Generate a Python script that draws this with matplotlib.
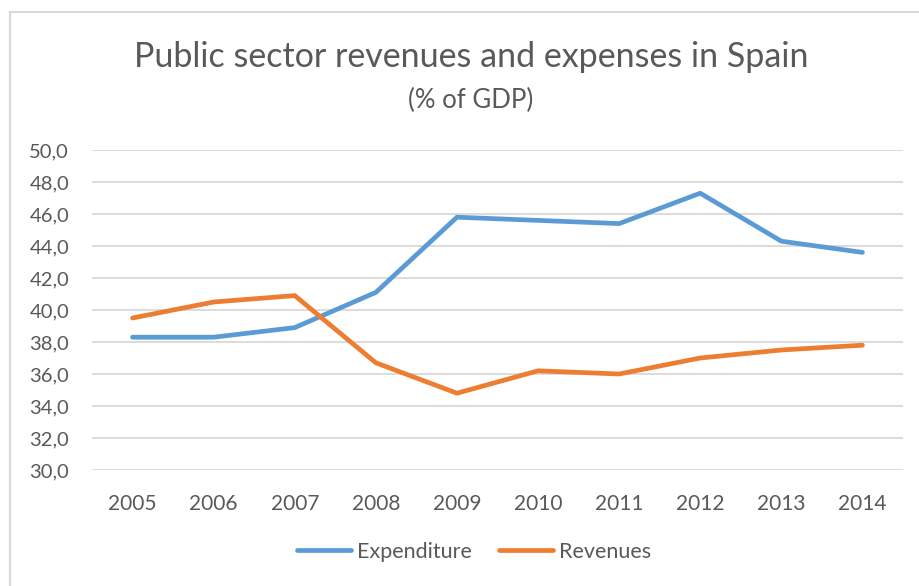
import matplotlib
matplotlib.use("Agg")
import matplotlib.pyplot as plt
from matplotlib.patches import Rectangle
from matplotlib.ticker import FuncFormatter

years = ["2005", "2006", "2007", "2008", "2009", "2010", "2011", "2012", "2013", "2014"]
expenditure = [38.3, 38.3, 38.9, 41.1, 45.8, 45.6, 45.4, 47.3, 44.3, 43.6]
revenues = [39.5, 40.5, 40.9, 36.7, 34.8, 36.2, 36.0, 37.0, 37.5, 37.8]
y_ticks = [30, 32, 34, 36, 38, 40, 42, 44, 46, 48, 50]

TEXT = "#595959"
GRID = "#D9D9D9"
BLUE = "#5B9BD5"
ORANGE = "#ED7D31"

plt.rcParams["font.family"] = ["Lato", "DejaVu Sans"]

W, H = 920, 586
fig = plt.figure(figsize=(W / 100, H / 100), dpi=100)
fig.patch.set_facecolor("white")

# chart frame (left and top edges visible)
fig.patches.append(Rectangle((10 / W, -0.05), 1.2, (H - 12) / H + 0.05,
                             transform=fig.transFigure, fill=False,
                             edgecolor=GRID, linewidth=1.5))

ax = fig.add_axes([92 / W, 1 - 470 / H, (903 - 92) / W, (470 - 150) / H])
x = list(range(len(years)))
ax.plot(x, expenditure, color=BLUE, lw=3.4, solid_capstyle="round",
        solid_joinstyle="round", label="Expenditure", zorder=3)
ax.plot(x, revenues, color=ORANGE, lw=3.4, solid_capstyle="round",
        solid_joinstyle="round", label="Revenues", zorder=3)

ax.set_xlim(-0.5, len(years) - 0.5)
ax.set_ylim(30, 50)
ax.set_yticks(y_ticks)
ax.yaxis.set_major_formatter(FuncFormatter(lambda v, p: f"{v:.1f}".replace(".", ",")))
ax.set_xticks(x)
ax.set_xticklabels(years)
ax.grid(axis="y", color=GRID, lw=1.3)
ax.set_axisbelow(True)
for s in ax.spines.values():
    s.set_visible(False)
ax.tick_params(axis="both", length=0, colors=TEXT)
ax.tick_params(axis="x", pad=17, labelsize=15)
ax.tick_params(axis="y", pad=16.5, labelsize=14.5)

fig.text(471 / W, 1 - 57 / H, "Public sector revenues and expenses in Spain",
         ha="center", va="center", fontsize=24.5, color=TEXT)
fig.text(471 / W, 1 - 100 / H, "(% of GDP)", ha="center", va="center",
         fontsize=18.5, color=TEXT)

leg = ax.legend(loc="center", bbox_to_anchor=(474 / W, 1 - 552 / H),
                bbox_transform=fig.transFigure, ncol=2, frameon=False,
                fontsize=15.5, handlelength=2.5, handletextpad=0.25,
                columnspacing=1.3)
for t in leg.get_texts():
    t.set_color(TEXT)

fig.savefig("out.png", dpi=100, facecolor="white")
